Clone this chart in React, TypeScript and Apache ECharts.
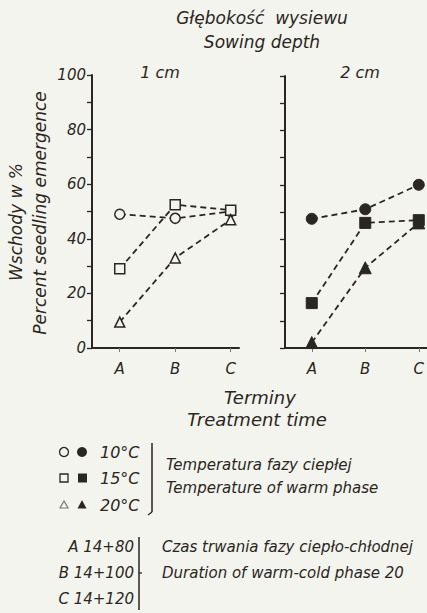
import React, { useEffect, useRef } from "react";
import * as echarts from "echarts";

const treatments = ["A", "B", "C"];
const xPos = [1, 2, 3];
const yTicks = [0, 20, 40, 60, 80, 100];

// 1 cm depth (open markers)
const cm1_10C = [49, 47.5, 50];
const cm1_15C = [29, 52.5, 50.5];
const cm1_20C = [9.5, 33, 47];
// 2 cm depth (filled markers)
const cm2_10C = [47.5, 51, 60];
const cm2_15C = [16.5, 46, 47];
const cm2_20C = [2, 29.5, 46];

const tempLabels = ["10°C", "15°C", "20°C"];
const timeLabels = ["A 14+80", "B 14+100", "C 14+120"];

const BG = "#f4f4ee";
const INK = "#2a2622";
const FONT = "DejaVu Sans";

export default function App() {
  const ref = useRef<HTMLDivElement>(null);
  useEffect(() => {
    document.body.style.margin = "0";
    const chart = echarts.init(ref.current!, null, { renderer: "svg" });
    const pair = (ys: number[]) => xPos.map((x, i) => [x, ys[i]]);
    const xAxis = (gi: number) => ({
      type: "value",
      gridIndex: gi,
      min: 0.5,
      max: 3.15,
      axisLine: { lineStyle: { color: INK, width: 2 } },
      axisTick: { show: true, customValues: xPos, length: 4, lineStyle: { color: "#777", width: 1 } },
      axisLabel: {
        customValues: xPos,
        formatter: (v: number) => treatments[Math.round(v) - 1] ?? "",
        color: INK,
        fontSize: 15,
        fontStyle: "italic",
        fontFamily: FONT,
        margin: 13,
      },
      splitLine: { show: false },
    });
    const yAxis = (gi: number, labels: boolean) => ({
      type: "value",
      gridIndex: gi,
      min: 0,
      max: 100,
      interval: 10,
      axisLine: { show: true, lineStyle: { color: INK, width: 2 } },
      axisTick: { show: true, length: 5, lineStyle: { color: INK, width: 1.3 } },
      axisLabel: {
        show: labels,
        formatter: (v: number) => (yTicks.includes(v) ? String(v) : ""),
        color: INK,
        fontSize: 15,
        fontStyle: "italic",
        fontFamily: FONT,
        margin: 6,
      },
      splitLine: { show: false },
    });
    const series = (
      gi: number,
      data: number[],
      symbol: string,
      filled: boolean,
      size: number
    ) => ({
      type: "line",
      xAxisIndex: gi,
      yAxisIndex: gi,
      data: pair(data),
      symbol,
      symbolSize: size,
      showSymbol: true,
      lineStyle: { color: INK, width: 1.8, type: [6, 4] },
      itemStyle: filled
        ? { color: INK, borderColor: INK, borderWidth: 1 }
        : { color: BG, borderColor: INK, borderWidth: 1.5 },
      emphasis: { disabled: true },
    });
    const txt = (x: number, y: number, text: string, size = 14, align = "left") => ({
      type: "text",
      x,
      y,
      style: {
        text,
        fill: INK,
        fontSize: size,
        fontStyle: "italic",
        fontFamily: FONT,
        textAlign: align,
        textVerticalAlign: "middle",
      },
    });
    const legendY = [452, 478, 505];
    const markers: any[] = [];
    legendY.forEach((y, i) => {
      if (i === 0) {
        markers.push({ type: "circle", shape: { cx: 64, cy: y, r: 4.5 }, style: { fill: BG, stroke: INK, lineWidth: 1.3 } });
        markers.push({ type: "circle", shape: { cx: 82, cy: y, r: 5 }, style: { fill: INK } });
      } else if (i === 1) {
        markers.push({ type: "rect", shape: { x: 60, y: y - 4, width: 8, height: 8 }, style: { fill: BG, stroke: INK, lineWidth: 1.3 } });
        markers.push({ type: "rect", shape: { x: 78, y: y - 4.5, width: 9, height: 9 }, style: { fill: INK } });
      } else {
        markers.push({ type: "polygon", shape: { points: [[64, y - 4], [60, y + 3], [68, y + 3]] }, style: { fill: BG, stroke: "#777", lineWidth: 1.2 } });
        markers.push({ type: "polygon", shape: { points: [[82, y - 5], [77.5, y + 3.5], [86.5, y + 3.5]] }, style: { fill: INK } });
      }
      markers.push(txt(100, y, tempLabels[i], 16));
    });
    const timeY = [547, 573, 599];
    timeY.forEach((y, i) => {
      markers.push(txt(134, y, timeLabels[i], 15, "right"));
    });
    const option = {
      animation: false,
      backgroundColor: BG,
      grid: [
        { left: 92, top: 75, width: 147, height: 273 },
        { left: 285, top: 76, width: 143, height: 272 },
      ],
      xAxis: [xAxis(0), xAxis(1)],
      yAxis: [yAxis(0, true), yAxis(1, false)],
      series: [
        series(0, cm1_10C, "circle", false, 10),
        series(0, cm1_15C, "rect", false, 10),
        series(0, cm1_20C, "triangle", false, 10),
        series(1, cm2_10C, "circle", true, 11),
        series(1, cm2_15C, "rect", true, 11),
        series(1, cm2_20C, "triangle", true, 12),
      ],
      graphic: [
        txt(262, 18, "Głębokość  wysiewu", 17, "center"),
        txt(262, 42, "Sowing depth", 17, "center"),
        txt(160, 72, "1 cm", 16, "center"),
        txt(360, 72, "2 cm", 16, "center"),
        {
          type: "text",
          x: 16,
          y: 222,
          rotation: Math.PI / 2,
          style: { text: "Wschody w %", fill: INK, fontSize: 17, fontStyle: "italic", fontFamily: FONT, textAlign: "center", textVerticalAlign: "middle" },
        },
        {
          type: "text",
          x: 40,
          y: 213,
          rotation: Math.PI / 2,
          style: { text: "Percent seedling emergence", fill: INK, fontSize: 17, fontStyle: "italic", fontFamily: FONT, textAlign: "center", textVerticalAlign: "middle" },
        },
        txt(260, 397, "Terminy", 18, "center"),
        txt(257, 419, "Treatment time", 18, "center"),
        ...markers,
        { type: "line", shape: { x1: 152, y1: 443, x2: 152, y2: 512 }, style: { stroke: INK, lineWidth: 1.5 } },
        { type: "line", shape: { x1: 152, y1: 512, x2: 148, y2: 515 }, style: { stroke: INK, lineWidth: 1.3 } },
        txt(166, 465, "Temperatura fazy ciepłej", 15),
        txt(166, 488, "Temperature of warm phase", 15),
        { type: "line", shape: { x1: 139, y1: 537, x2: 139, y2: 610 }, style: { stroke: INK, lineWidth: 1.5 } },
        { type: "line", shape: { x1: 139, y1: 573, x2: 142, y2: 573 }, style: { stroke: INK, lineWidth: 1.3 } },
        txt(162, 547, "Czas trwania fazy ciepło-chłodnej", 15),
        txt(162, 573, "Duration of warm-cold phase 20", 15),
      ],
    };
    chart.setOption(option as any);
    return () => chart.dispose();
  }, []);
  return (
    <div
      ref={ref}
      style={{ position: "absolute", left: 0, top: 0, width: 427, height: 613 }}
    />
  );
}
